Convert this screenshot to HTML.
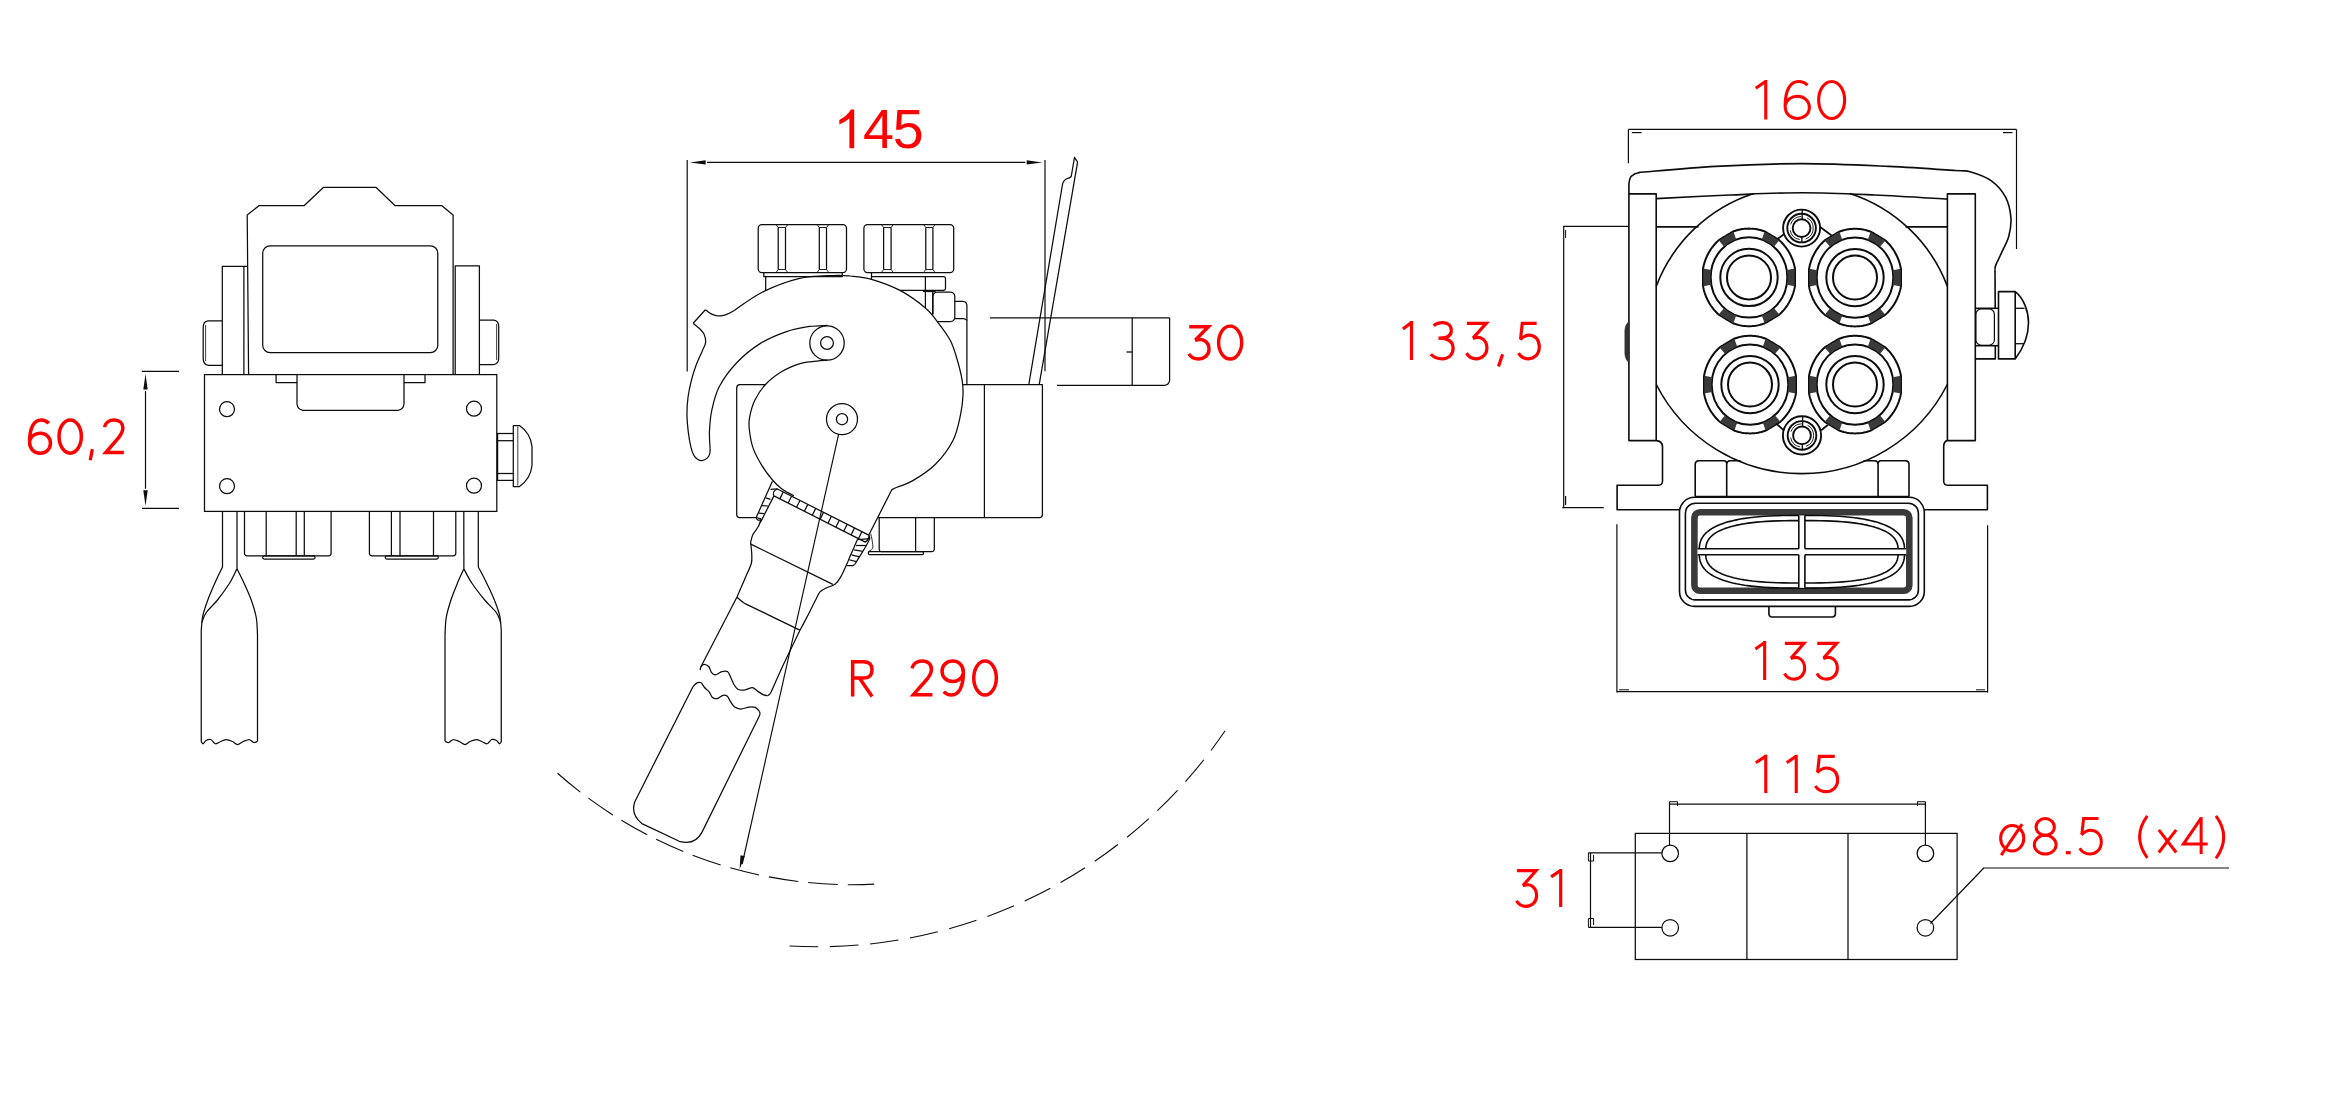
<!DOCTYPE html>
<html><head><meta charset="utf-8"><title>Drawing</title>
<style>html,body{margin:0;padding:0;background:#fff;}body{width:2338px;height:1119px;overflow:hidden;font-family:"Liberation Sans",sans-serif;}</style>
</head><body>
<svg width="2338" height="1119" viewBox="0 0 2338 1119" style="display:block">
<path d="M248.6 374.7L247.2 215.1L259.2 205.5L304.3 205.5L323.6 187.3L375.9 187.3L394.9 205.5L441.6 205.5L453.1 215.1L453.1 374.7" stroke="#0c0c0c" stroke-width="1.25" fill="none" stroke-linejoin="round" />
<rect x="262.7" y="245.8" width="175.1" height="106.9" rx="7.5" stroke="#0c0c0c" stroke-width="1.25" fill="none" />
<path d="M222.3 374.7L222.3 266.4L247.5 266.4" stroke="#0c0c0c" stroke-width="1.25" fill="none" stroke-linejoin="round" />
<path d="M243.9 266.4L243.9 374.7" stroke="#0c0c0c" stroke-width="1.25" fill="none" />
<path d="M455.2 374.7L455.2 265.8L479.4 265.8L479.4 374.7" stroke="#0c0c0c" stroke-width="1.25" fill="none" stroke-linejoin="round" />
<path d="M222.3 320.8L208 320.8Q203.2 321.5 203.2 327L203.2 359Q203.5 364.8 208.5 365.4L222.3 365.4" stroke="#0c0c0c" stroke-width="1.25" fill="none" stroke-linejoin="round" />
<path d="M205.6 325L205.6 361" stroke="#0c0c0c" stroke-width="0.8" fill="none" />
<path d="M479.4 320.2L493.8 320.2Q498.7 321 498.7 326.5L498.7 358.5Q498.5 364 493.5 364.6L479.4 364.6" stroke="#0c0c0c" stroke-width="1.25" fill="none" stroke-linejoin="round" />
<path d="M496.6 324L496.6 360" stroke="#0c0c0c" stroke-width="0.8" fill="none" />
<rect x="204.5" y="374.6" width="292.3" height="136.8" rx="0" stroke="#0c0c0c" stroke-width="1.25" fill="none" />
<circle cx="227" cy="409.2" r="7.5" stroke="#0c0c0c" stroke-width="1.25" fill="none" />
<circle cx="474" cy="408.7" r="7.5" stroke="#0c0c0c" stroke-width="1.25" fill="none" />
<circle cx="227" cy="486.2" r="7.5" stroke="#0c0c0c" stroke-width="1.25" fill="none" />
<circle cx="474" cy="485.7" r="7.5" stroke="#0c0c0c" stroke-width="1.25" fill="none" />
<path d="M276.1 374.7L276.1 382.7L297 382.7" stroke="#0c0c0c" stroke-width="1.25" fill="none" stroke-linejoin="round" />
<path d="M404 382.7L425 382.7L425 374.7" stroke="#0c0c0c" stroke-width="1.25" fill="none" stroke-linejoin="round" />
<path d="M297 374.7L297 404Q297.5 409.5 303 410.3L398 410.3Q403.5 409.5 404 404L404 374.7" stroke="#0c0c0c" stroke-width="1.25" fill="none" stroke-linejoin="round" />
<path d="M496.8 433.5L513.3 433.5" stroke="#0c0c0c" stroke-width="1.25" fill="none" />
<path d="M496.8 480.4L513.3 480.4" stroke="#0c0c0c" stroke-width="1.25" fill="none" />
<path d="M496.8 440.7L513.3 440.7" stroke="#0c0c0c" stroke-width="1.25" fill="none" />
<path d="M496.8 473.5L513.3 473.5" stroke="#0c0c0c" stroke-width="1.25" fill="none" />
<path d="M497.6 433.5L497.6 480.4" stroke="#0c0c0c" stroke-width="1.25" fill="none" />
<path d="M513.3 425.5L519.5 425.5C526 430 531 437.5 532 446.5L532 465.5C531 474.5 526 482 519.5 486.5L513.3 486.5Z" stroke="#0c0c0c" stroke-width="1.25" fill="none" stroke-linejoin="round" />
<path d="M517.8 426.5L517.8 485.5" stroke="#0c0c0c" stroke-width="0.8" fill="none" />
<path d="M244.5 511.4L244.5 553.5Q244.7 555.7 247 555.9L328.6 555.9Q330.9 555.7 331.1 553.5L331.1 511.4" stroke="#0c0c0c" stroke-width="1.25" fill="none" stroke-linejoin="round" />
<path d="M266.2 511.4L266.2 555.9" stroke="#0c0c0c" stroke-width="1.25" fill="none" />
<path d="M296.2 511.4L296.2 555.9" stroke="#0c0c0c" stroke-width="1.25" fill="none" />
<path d="M304.3 511.4L304.3 555.9" stroke="#0c0c0c" stroke-width="1.25" fill="none" />
<rect x="262.7" y="555.9" width="52.3" height="3.2" rx="1.5" stroke="#0c0c0c" stroke-width="1.25" fill="none" />
<path d="M369.4 511.4L369.4 553.5Q369.6 555.7 372 555.9L453.3 555.9Q455.6 555.7 455.8 553.5L455.8 511.4" stroke="#0c0c0c" stroke-width="1.25" fill="none" stroke-linejoin="round" />
<path d="M391.4 511.4L391.4 555.9" stroke="#0c0c0c" stroke-width="1.25" fill="none" />
<path d="M400 511.4L400 555.9" stroke="#0c0c0c" stroke-width="1.25" fill="none" />
<path d="M433.5 511.4L433.5 555.9" stroke="#0c0c0c" stroke-width="1.25" fill="none" />
<rect x="385.3" y="555.9" width="53" height="3.2" rx="1.5" stroke="#0c0c0c" stroke-width="1.25" fill="none" />
<path d="M222.5 511.25L222.5 567" stroke="#0c0c0c" stroke-width="1.25" fill="none" stroke-linejoin="round" />
<path d="M222.5 567C221.46 569.17 218.54 574.92 216.25 580C213.96 585.08 210.96 591.67 208.75 597.5C206.54 603.33 204.25 609.58 203 615C201.75 620.42 201.54 627.5 201.25 630" stroke="#0c0c0c" stroke-width="1.25" fill="none" stroke-linejoin="round" />
<path d="M201.25 630L201.25 742" stroke="#0c0c0c" stroke-width="1.25" fill="none" stroke-linejoin="round" />
<path d="M237 511.25L237 568.75" stroke="#0c0c0c" stroke-width="1.25" fill="none" stroke-linejoin="round" />
<path d="M237 568.75C238.12 571.04 241.38 577.29 243.75 582.5C246.12 587.71 249.17 594.17 251.25 600C253.33 605.83 255.21 611.67 256.25 617.5C257.29 623.33 257.29 632.08 257.5 635" stroke="#0c0c0c" stroke-width="1.25" fill="none" stroke-linejoin="round" />
<path d="M257.5 635L257.5 741.25" stroke="#0c0c0c" stroke-width="1.25" fill="none" stroke-linejoin="round" />
<path d="M237 568.75C235.83 571.04 233.25 577.29 230 582.5C226.75 587.71 221.46 595 217.5 600C213.54 605 208.88 608.75 206.25 612.5C203.62 616.25 202.5 620.83 201.75 622.5" stroke="#0c0c0c" stroke-width="1.25" fill="none" stroke-linejoin="round" />
<path d="M201.25 742C201.58 742.29 202.46 744 203.25 743.75C204.04 743.5 204.75 741.21 206 740.5C207.25 739.79 209.17 738.96 210.75 739.5C212.33 740.04 213.83 743.42 215.5 743.75C217.17 744.08 218.96 742.21 220.75 741.5C222.54 740.79 224.29 739.5 226.25 739.5C228.21 739.5 230.62 740.67 232.5 741.5C234.38 742.33 235.71 744.5 237.5 744.5C239.29 744.5 241.25 742.29 243.25 741.5C245.25 740.71 247.75 739.58 249.5 739.75C251.25 739.92 252.42 742.25 253.75 742.5C255.08 742.75 256.88 741.46 257.5 741.25" stroke="#0c0c0c" stroke-width="1.25" fill="none" stroke-linejoin="round" />
<path d="M478.3 511.25L478.3 567" stroke="#0c0c0c" stroke-width="1.25" fill="none" stroke-linejoin="round" />
<path d="M478.3 567C479.43 569.17 482.59 574.92 485.1 580C487.61 585.08 490.95 591.67 493.35 597.5C495.75 603.33 498.18 609.58 499.5 615C500.82 620.42 500.96 627.5 501.25 630" stroke="#0c0c0c" stroke-width="1.25" fill="none" stroke-linejoin="round" />
<path d="M501.25 630L501.25 742" stroke="#0c0c0c" stroke-width="1.25" fill="none" stroke-linejoin="round" />
<path d="M463.8 511.25L463.87 568.75" stroke="#0c0c0c" stroke-width="1.25" fill="none" stroke-linejoin="round" />
<path d="M463.87 568.75C462.85 571.04 459.86 577.29 457.71 582.5C455.56 587.71 452.86 594.17 450.95 600C449.04 605.83 447.24 611.67 446.25 617.5C445.26 623.33 445.21 632.08 445 635" stroke="#0c0c0c" stroke-width="1.25" fill="none" stroke-linejoin="round" />
<path d="M445 635L445 741.25" stroke="#0c0c0c" stroke-width="1.25" fill="none" stroke-linejoin="round" />
<path d="M463.87 568.75C465.14 571.04 467.99 577.29 471.46 582.5C474.93 587.71 480.57 595 484.7 600C488.83 605 493.58 608.75 496.25 612.5C498.92 616.25 500 620.83 500.75 622.5" stroke="#0c0c0c" stroke-width="1.25" fill="none" stroke-linejoin="round" />
<path d="M501.25 742C500.92 742.29 500.04 744 499.25 743.75C498.46 743.5 497.75 741.21 496.5 740.5C495.25 739.79 493.33 738.96 491.75 739.5C490.17 740.04 488.67 743.42 487 743.75C485.33 744.08 483.54 742.21 481.75 741.5C479.96 740.79 478.21 739.5 476.25 739.5C474.29 739.5 471.88 740.67 470 741.5C468.12 742.33 466.79 744.5 465 744.5C463.21 744.5 461.25 742.29 459.25 741.5C457.25 740.71 454.75 739.58 453 739.75C451.25 739.92 450.08 742.25 448.75 742.5C447.42 742.75 445.62 741.46 445 741.25" stroke="#0c0c0c" stroke-width="1.25" fill="none" stroke-linejoin="round" />
<path d="M142 371.4L179 371.4" stroke="#0c0c0c" stroke-width="1.2" fill="none" />
<path d="M142 508.4L179 508.4" stroke="#0c0c0c" stroke-width="1.2" fill="none" />
<path d="M145.5 391L145.5 488.8" stroke="#0c0c0c" stroke-width="1.2" fill="none" />
<path d="M145.5 373.9L147.7 389.6L143.3 389.6Z" fill="#0c0c0c" stroke="none"/>
<path d="M145.5 505.9L143.3 490.2L147.7 490.2Z" fill="#0c0c0c" stroke="none"/>
<path d="M48.78 423.27 C46.69 420.95 44.18 419.95 41.05 419.95 C33.73 419.95 29.55 428.25 29.55 441.86 C29.55 449.17 34.15 453.15 40 453.15 C45.85 453.15 50.45 449.17 50.45 443.19 C50.45 437.21 45.85 433.23 40 433.23 C34.77 433.23 30.6 436.55 29.97 440.53" fill="none" stroke="#ff0000" stroke-width="3.5" stroke-linejoin="miter" stroke-miterlimit="10"/>
<ellipse cx="70.2" cy="436.55" rx="11.15" ry="16.6" fill="none" stroke="#ff0000" stroke-width="3.5"/>
<path d="M92.35 449.1 L90.25 460.2" fill="none" stroke="#ff0000" stroke-width="3.3" stroke-linejoin="miter" stroke-miterlimit="10"/>
<path d="M104.45 427.12 C105.42 422.56 109.3 419.95 114.15 419.95 C119.58 419.95 122.88 423.21 122.88 428.1 C122.88 432.34 120.94 434.62 118.42 437.88 L105.81 452.55 L123.85 452.55" fill="none" stroke="#ff0000" stroke-width="3.5" stroke-linejoin="miter" stroke-miterlimit="10"/>
<rect x="758.2" y="224.6" width="88.3" height="47.9" rx="3.6" stroke="#0c0c0c" stroke-width="1.25" fill="none" />
<path d="M778.2 227.5L778.2 269.5" stroke="#0c0c0c" stroke-width="1.25" fill="none" />
<path d="M785.5 227.5L785.5 269.5" stroke="#0c0c0c" stroke-width="1.25" fill="none" />
<path d="M778.2 269.5L776 272.5" stroke="#0c0c0c" stroke-width="0.9" fill="none" />
<path d="M785.5 269.5L787.7 272.5" stroke="#0c0c0c" stroke-width="0.9" fill="none" />
<path d="M778.2 227.5L776 224.6" stroke="#0c0c0c" stroke-width="0.9" fill="none" />
<path d="M785.5 227.5L787.7 224.6" stroke="#0c0c0c" stroke-width="0.9" fill="none" />
<path d="M778.2 269.5L785.5 269.5" stroke="#0c0c0c" stroke-width="0.9" fill="none" />
<path d="M778.2 227.5L785.5 227.5" stroke="#0c0c0c" stroke-width="0.9" fill="none" />
<path d="M819.3 227.5L819.3 269.5" stroke="#0c0c0c" stroke-width="1.25" fill="none" />
<path d="M826.5 227.5L826.5 269.5" stroke="#0c0c0c" stroke-width="1.25" fill="none" />
<path d="M819.3 269.5L817.1 272.5" stroke="#0c0c0c" stroke-width="0.9" fill="none" />
<path d="M826.5 269.5L828.7 272.5" stroke="#0c0c0c" stroke-width="0.9" fill="none" />
<path d="M819.3 227.5L817.1 224.6" stroke="#0c0c0c" stroke-width="0.9" fill="none" />
<path d="M826.5 227.5L828.7 224.6" stroke="#0c0c0c" stroke-width="0.9" fill="none" />
<path d="M819.3 269.5L826.5 269.5" stroke="#0c0c0c" stroke-width="0.9" fill="none" />
<path d="M819.3 227.5L826.5 227.5" stroke="#0c0c0c" stroke-width="0.9" fill="none" />
<rect x="863.9" y="224.6" width="89.8" height="47.9" rx="3.6" stroke="#0c0c0c" stroke-width="1.25" fill="none" />
<path d="M883.6 227.5L883.6 269.5" stroke="#0c0c0c" stroke-width="1.25" fill="none" />
<path d="M891.1 227.5L891.1 269.5" stroke="#0c0c0c" stroke-width="1.25" fill="none" />
<path d="M883.6 269.5L881.4 272.5" stroke="#0c0c0c" stroke-width="0.9" fill="none" />
<path d="M891.1 269.5L893.3 272.5" stroke="#0c0c0c" stroke-width="0.9" fill="none" />
<path d="M883.6 227.5L881.4 224.6" stroke="#0c0c0c" stroke-width="0.9" fill="none" />
<path d="M891.1 227.5L893.3 224.6" stroke="#0c0c0c" stroke-width="0.9" fill="none" />
<path d="M883.6 269.5L891.1 269.5" stroke="#0c0c0c" stroke-width="0.9" fill="none" />
<path d="M883.6 227.5L891.1 227.5" stroke="#0c0c0c" stroke-width="0.9" fill="none" />
<path d="M925.8 227.5L925.8 269.5" stroke="#0c0c0c" stroke-width="1.25" fill="none" />
<path d="M932.9 227.5L932.9 269.5" stroke="#0c0c0c" stroke-width="1.25" fill="none" />
<path d="M925.8 269.5L923.6 272.5" stroke="#0c0c0c" stroke-width="0.9" fill="none" />
<path d="M932.9 269.5L935.1 272.5" stroke="#0c0c0c" stroke-width="0.9" fill="none" />
<path d="M925.8 227.5L923.6 224.6" stroke="#0c0c0c" stroke-width="0.9" fill="none" />
<path d="M932.9 227.5L935.1 224.6" stroke="#0c0c0c" stroke-width="0.9" fill="none" />
<path d="M925.8 269.5L932.9 269.5" stroke="#0c0c0c" stroke-width="0.9" fill="none" />
<path d="M925.8 227.5L932.9 227.5" stroke="#0c0c0c" stroke-width="0.9" fill="none" />
<path d="M763.8 272.5L763.8 276.7L842.2 276.7L842.2 272.5" stroke="#0c0c0c" stroke-width="1.25" fill="none" stroke-linejoin="round" />
<path d="M765.7 276.7L765.7 290.5" stroke="#0c0c0c" stroke-width="1.25" fill="none" />
<path d="M871.5 272.5L871.5 279" stroke="#0c0c0c" stroke-width="1.25" fill="none" />
<path d="M871.5 276.6L943.8 276.6Q945.5 276.8 945.5 278.5L945.5 288.4Q945.4 290.2 943.6 290.4L900 290.4" stroke="#0c0c0c" stroke-width="1.25" fill="none" stroke-linejoin="round" />
<path d="M925.4 276.6L925.4 290.4" stroke="#0c0c0c" stroke-width="1.25" fill="none" />
<path d="M922.9 291.5L935.8 291.5" stroke="#0c0c0c" stroke-width="1.25" fill="none" />
<path d="M925.4 291.5L925.4 307.9" stroke="#0c0c0c" stroke-width="1.25" fill="none" />
<path d="M932.7 291.5L932.7 314.5" stroke="#0c0c0c" stroke-width="1.25" fill="none" />
<path d="M932.9 314.6L932.9 296.5Q933.2 292.5 937.2 292.2L950.5 292.2Q954.5 292.5 954.8 296.5L954.8 317.2Q954.5 321.2 950.5 321.5L937.2 321.5" stroke="#0c0c0c" stroke-width="1.25" fill="none" stroke-linejoin="round" />
<path d="M954.8 301.3L963 301.3Q966.7 301.6 966.9 305.3L966.9 385.3" stroke="#0c0c0c" stroke-width="1.25" fill="none" stroke-linejoin="round" />
<path d="M954.8 318.6L963.5 318.6Q966 318.8 966.9 320.5" stroke="#0c0c0c" stroke-width="1.25" fill="none" stroke-linejoin="round" />
<path d="M765.7 384.6L739.7 384.6Q736.9 384.8 736.7 387.6L736.7 514.7Q736.9 517.5 739.7 517.7L756.2 517.7" stroke="#0c0c0c" stroke-width="1.25" fill="none" stroke-linejoin="round" />
<path d="M963 384.6L1042.4 384.6L1042.4 514.7Q1042.2 517.5 1039.4 517.7L878.3 517.7" stroke="#0c0c0c" stroke-width="1.25" fill="none" stroke-linejoin="round" />
<path d="M984.4 384.6L984.4 517.7" stroke="#0c0c0c" stroke-width="1.25" fill="none" />
<path d="M879.2 517.7L879.2 549.5Q879.4 551.5 881.5 551.7L932 551.7Q934.1 551.5 934.3 549.5L934.3 517.7" stroke="#0c0c0c" stroke-width="1.25" fill="none" stroke-linejoin="round" />
<path d="M915.6 517.7L915.6 551.7" stroke="#0c0c0c" stroke-width="1.25" fill="none" />
<rect x="868.4" y="551.7" width="55.1" height="3" rx="1.2" stroke="#0c0c0c" stroke-width="1.25" fill="none" />
<path d="M734.3 310.4C738.95 307.37 751.47 297.5 762.2 292.2C772.93 286.9 786.9 281.38 798.7 278.6C810.5 275.82 824.45 275.93 833 275.5C841.55 275.07 843.58 275.37 850 276C856.42 276.63 863.17 276.9 871.5 279.3C879.83 281.7 891.02 285.63 900 290.4C908.98 295.17 919.25 302.78 925.4 307.9C931.55 313.02 932.78 315.75 936.9 321.1C941.02 326.45 946.75 333.68 950.1 340C953.45 346.32 955 352.32 957 359C959 365.68 961.1 374.08 962.1 380.1C963.1 386.12 963.25 389.38 963 395.1C962.75 400.82 962.25 406.88 960.6 414.4C958.95 421.92 957.33 431.85 953.1 440.2C948.87 448.55 941.98 457.72 935.2 464.5C928.42 471.28 918.77 477.12 912.4 480.9C906.03 484.68 900.43 485.72 897 487.2C893.57 488.68 892.67 489.37 891.8 489.8L868.9 534.8" stroke="#0c0c0c" stroke-width="1.25" fill="none" stroke-linejoin="round" />
<path d="M693.16 323.27L705.39 309.76" stroke="#0c0c0c" stroke-width="1.25" fill="none" stroke-linejoin="round" />
<path d="M705.39 309.76C706.28 310.4 708.96 312.65 710.75 313.62C712.54 314.58 714.15 315.23 716.11 315.55C718.08 315.87 720.4 315.91 722.55 315.55C724.69 315.19 727.02 314.26 728.98 313.4C730.95 312.55 733.45 310.9 734.34 310.4" stroke="#0c0c0c" stroke-width="1.25" fill="none" stroke-linejoin="round" />
<path d="M693.16 323.27C694.31 324.24 698.17 327.17 700.03 329.06C701.89 330.96 703.39 332.39 704.32 334.64C705.25 336.89 705.96 339.82 705.6 342.57C705.25 345.33 703.82 347.22 702.17 351.15C700.53 355.08 697.52 361.34 695.74 366.17C693.95 370.99 692.73 374.92 691.45 380.11C690.16 385.29 688.77 391.55 688.02 397.27C687.27 402.98 686.91 408.7 686.94 414.42C686.98 420.14 687.55 426.04 688.23 431.58C688.91 437.12 690.05 443.66 691.02 447.67C691.98 451.67 692.88 453.64 694.02 455.6C695.17 457.57 696.52 458.64 697.88 459.46C699.24 460.29 700.67 460.71 702.17 460.54C703.67 460.36 705.64 459.46 706.89 458.39C708.14 457.32 709.14 455.71 709.68 454.1C710.21 452.49 710.04 449.63 710.11 448.74" stroke="#0c0c0c" stroke-width="1.25" fill="none" stroke-linejoin="round" />
<path d="M710.11 448.74C710 445.88 709.18 438.02 709.46 431.58C709.75 425.15 710.18 417.64 711.82 410.13C713.47 402.63 715.22 394.41 719.33 386.54C723.44 378.68 729.7 370.1 736.49 362.95C743.28 355.8 751.86 348.83 760.08 343.65C768.3 338.46 777.6 334.71 785.82 331.85C794.04 328.99 802.44 327.56 809.41 326.49C816.38 325.42 824.6 325.59 827.64 325.42" stroke="#0c0c0c" stroke-width="1.25" fill="none" stroke-linejoin="round" />
<circle cx="827" cy="343" r="17.2" stroke="#0c0c0c" stroke-width="1.25" fill="none" />
<circle cx="827" cy="343" r="6.4" stroke="#0c0c0c" stroke-width="1.25" fill="none" />
<path d="M827.6 360.2C825 360.43 816.6 361.03 812 361.6C807.4 362.17 805.02 361.95 800 363.6C794.98 365.25 787.62 368.07 781.9 371.5C776.18 374.93 770.23 379.38 765.7 384.2C761.17 389.02 757.38 394.88 754.7 400.4C752.02 405.92 750.5 412.5 749.6 417.3C748.7 422.1 748.73 424.1 749.3 429.2C749.87 434.3 750.97 441.95 753 447.9C755.03 453.85 758.25 459.55 761.5 464.9C764.75 470.25 769.2 476.07 772.5 480C775.8 483.93 778.2 486.1 781.3 488.5C784.4 490.9 788.98 493.18 791.1 494.4C793.22 495.62 793.52 495.57 794 495.8" stroke="#0c0c0c" stroke-width="1.25" fill="none" stroke-linejoin="round" />
<circle cx="842" cy="419.2" r="15.5" stroke="#0c0c0c" stroke-width="1.25" fill="none" />
<circle cx="842" cy="419.2" r="5.6" stroke="#0c0c0c" stroke-width="1.25" fill="none" />
<path d="M838.6 434.4L742.2 864" stroke="#0c0c0c" stroke-width="1.15" fill="none" />
<path d="M739.6 869.3L740.53 855.16L744.82 856.13Z" fill="#0c0c0c" stroke="none"/>
<path d="M777.35 488.99L868.75 535.18Q869.95 538.68 865.35 542.08L773.95 495.89Q771.75 491.39 777.35 488.99Z" stroke="#0c0c0c" stroke-width="1.25" fill="none" stroke-linejoin="round" />
<path d="M783.24 491.97L779.84 498.87" stroke="#0c0c0c" stroke-width="1.25" fill="none" />
<path d="M791.6 496.19L788.2 503.09" stroke="#0c0c0c" stroke-width="1.25" fill="none" />
<path d="M799.95 500.42L796.55 507.32" stroke="#0c0c0c" stroke-width="1.25" fill="none" />
<path d="M807.81 504.39L804.41 511.29" stroke="#0c0c0c" stroke-width="1.25" fill="none" />
<path d="M815.68 508.36L812.28 515.26" stroke="#0c0c0c" stroke-width="1.25" fill="none" />
<path d="M823.54 512.34L820.14 519.24" stroke="#0c0c0c" stroke-width="1.25" fill="none" />
<path d="M831.4 516.31L828 523.21" stroke="#0c0c0c" stroke-width="1.25" fill="none" />
<path d="M839.26 520.28L835.86 527.18" stroke="#0c0c0c" stroke-width="1.25" fill="none" />
<path d="M847.13 524.26L843.73 531.16" stroke="#0c0c0c" stroke-width="1.25" fill="none" />
<path d="M854.5 527.98L851.1 534.88" stroke="#0c0c0c" stroke-width="1.25" fill="none" />
<path d="M861.87 531.71L858.47 538.61" stroke="#0c0c0c" stroke-width="1.25" fill="none" />
<path d="M772.43 481.13L756.22 517.49" stroke="#0c0c0c" stroke-width="1.25" fill="none" />
<path d="M756.22 517.49Q756.71 520.74 760.15 520.15" stroke="#0c0c0c" stroke-width="1.25" fill="none" stroke-linejoin="round" />
<path d="M770.47 489.29L777.35 488.99" stroke="#0c0c0c" stroke-width="1.25" fill="none" />
<path d="M765.75 497.84L770.47 499.31" stroke="#0c0c0c" stroke-width="1.25" fill="none" />
<path d="M762.11 505.7L768.01 506" stroke="#0c0c0c" stroke-width="1.25" fill="none" />
<path d="M758.67 513.07L764.37 513.56" stroke="#0c0c0c" stroke-width="1.25" fill="none" />
<path d="M756.22 517.49L761.13 518.97" stroke="#0c0c0c" stroke-width="1.25" fill="none" />
<path d="M773.91 495.87L760.15 522.9" stroke="#0c0c0c" stroke-width="1.25" fill="none" />
<path d="M868.75 535.18C868.88 535.64 870.06 537.25 869.73 538.62C869.4 540 867.21 543.8 866.29 545.5C865.37 547.21 863.77 549.89 862.85 551.4C861.93 552.91 860.26 555.43 859.41 556.81C858.56 558.18 857.12 560.67 856.46 561.72C855.81 562.77 854.76 564.28 854.5 564.67" stroke="#0c0c0c" stroke-width="1.25" fill="none" stroke-linejoin="round" />
<path d="M854.5 564.67Q853.02 565.95 847.13 565.65" stroke="#0c0c0c" stroke-width="1.25" fill="none" stroke-linejoin="round" />
<path d="M869.73 538.62L857.44 539.61" stroke="#0c0c0c" stroke-width="1.25" fill="none" />
<path d="M866.29 545.5L855.97 545.5" stroke="#0c0c0c" stroke-width="1.25" fill="none" />
<path d="M862.85 551.4L854 549.93" stroke="#0c0c0c" stroke-width="1.25" fill="none" />
<path d="M859.41 556.81L851.55 554.84" stroke="#0c0c0c" stroke-width="1.25" fill="none" />
<path d="M856.46 561.72L849.09 559.75" stroke="#0c0c0c" stroke-width="1.25" fill="none" />
<path d="M870.71 533.71C870.91 534.63 871.92 538.62 872.19 540.59C872.45 542.56 873.27 546.95 872.68 548.45C872.09 549.96 868.42 551.43 867.76 551.89" stroke="#0c0c0c" stroke-width="0.9" fill="none" stroke-linejoin="round" />
<path d="M761.13 518.97C760.74 520.02 759.3 524.73 758.18 526.83C757.07 528.93 753.79 532.6 752.78 534.69C751.77 536.79 750.88 541.36 750.61 542.56C750.35 543.75 750.64 542.13 750.8 543.68C750.95 545.22 751.7 551.45 751.76 554.14C751.83 556.82 752.27 560.36 751.28 563.79C750.29 567.22 746.25 575.48 744.36 579.88C742.47 584.28 738.09 594.52 737.12 596.77" stroke="#0c0c0c" stroke-width="1.25" fill="none" stroke-linejoin="round" />
<path d="M737.12 596.77L700.92 666.77" stroke="#0c0c0c" stroke-width="1.25" fill="none" />
<path d="M857.44 539.61C856.46 541.83 851.42 553.2 850.07 556.31C848.73 559.43 848.56 560.27 847.34 562.98C846.11 565.7 842.51 573.87 840.9 576.66C839.29 579.45 837.31 582.36 835.27 583.9C833.23 585.45 827.65 587.17 825.62 588.25C823.58 589.32 821.38 590.27 819.98 591.95C818.59 593.62 816.66 597.9 815.16 600.8C813.66 603.69 810.76 609.7 808.72 613.67C806.68 617.64 801.05 628.31 799.87 630.56" stroke="#0c0c0c" stroke-width="1.25" fill="none" stroke-linejoin="round" />
<path d="M799.87 630.56C798.5 633.38 788.53 653.81 786.19 658.72C783.86 663.63 778.12 676.18 776.54 679.64C774.96 683.1 771.31 691.72 770.43 693.31C769.54 694.91 767.96 695.34 767.69 695.57" stroke="#0c0c0c" stroke-width="1.25" fill="none" stroke-linejoin="round" />
<path d="M750.8 544.16L832.86 584.38" stroke="#0c0c0c" stroke-width="1.25" fill="none" />
<path d="M737.12 597.26C737.68 597.74 741.54 601.25 742.75 602.08C743.96 602.92 743.48 602.82 749.19 605.62C754.9 608.42 794.8 627.63 799.87 630.08" stroke="#0c0c0c" stroke-width="1.25" fill="none" stroke-linejoin="round" />
<path d="M700.11 669.98C700.23 669.5 700.31 667.61 700.92 666.77C701.52 665.92 702.93 664.35 704.14 664.35C705.34 664.35 707.88 665.56 708.96 666.77C710.05 667.97 710.41 671.19 711.38 672.4C712.34 673.6 713.83 674.93 715.4 674.81C716.97 674.69 720.02 672.08 721.83 671.59C723.64 671.11 726.14 670.75 727.47 671.59C728.79 672.44 729.72 675.29 730.68 677.22C731.65 679.16 732.82 682.65 733.9 684.47C734.99 686.28 736.36 688.45 737.92 689.29C739.49 690.14 742.19 690.34 744.36 690.1C746.53 689.86 750.47 687.56 752.41 687.68C754.34 687.8 755.54 689.81 757.23 690.9C758.92 691.99 762.1 694.22 763.67 694.92C765.24 695.62 767.09 695.47 767.69 695.57" stroke="#0c0c0c" stroke-width="1.25" fill="none" stroke-linejoin="round" />
<path d="M701.42 682.73C701.89 683.44 703.4 686.05 704.58 687.48C705.77 688.9 708.14 690.7 709.33 692.22C710.52 693.74 711.31 696.65 712.5 697.6C713.68 698.55 715.68 698.89 717.24 698.55C718.81 698.22 721.42 695.72 722.94 695.39C724.46 695.06 726.23 695.39 727.37 696.34C728.51 697.29 729.44 700.1 730.54 701.72C731.63 703.33 733.08 706.01 734.65 707.1C736.22 708.19 738.84 709 740.98 709C743.12 709 746.76 707.34 748.89 707.1C751.03 706.86 753.66 706.8 755.22 707.42C756.79 708.03 758.72 710.64 759.34 711.21" stroke="#0c0c0c" stroke-width="1.25" fill="none" stroke-linejoin="round" />
<path d="M701.42 682.73Q696.67 681.15 692.56 687.48L634.95 801.42Q630.2 814.08 641.91 823.57L679.26 841.3Q695.09 845.73 702.05 832.12L759.34 715.96Q760.6 713.43 759.34 711.21" stroke="#0c0c0c" stroke-width="1.25" fill="none" stroke-linejoin="round" />
<path d="M989.9 317.8L1169.6 317.8" stroke="#0c0c0c" stroke-width="1.25" fill="none" />
<path d="M1169.6 317.8L1169.6 380Q1169.3 384.8 1164.5 385.3L1057 385.3" stroke="#0c0c0c" stroke-width="1.25" fill="none" stroke-linejoin="round" />
<path d="M1132.2 317.8L1132.2 385.3" stroke="#0c0c0c" stroke-width="1.25" fill="none" />
<path d="M1126.5 352L1132.2 352" stroke="#0c0c0c" stroke-width="1.25" fill="none" />
<path d="M1077.6 162.1L1039.2 384.6" stroke="#0c0c0c" stroke-width="1.25" fill="none" />
<path d="M1077.6 162.1L1074.5 157.4L1071.3 176Q1070.8 177.8 1067.1 178.5Q1063 180.5 1062.4 185L1028.8 384.6" stroke="#0c0c0c" stroke-width="1.25" fill="none" stroke-linejoin="round" />
<path d="M687.2 160L687.2 371.5" stroke="#0c0c0c" stroke-width="1.2" fill="none" />
<path d="M1045 160L1045 371.3" stroke="#0c0c0c" stroke-width="1.2" fill="none" />
<path d="M707 162.4L1025.3 162.4" stroke="#0c0c0c" stroke-width="1.2" fill="none" />
<path d="M689.9 162.4L705.6 160.2L705.6 164.6Z" fill="#0c0c0c" stroke="none"/>
<path d="M1042.4 162.4L1026.7 164.6L1026.7 160.2Z" fill="#0c0c0c" stroke="none"/>
<path d="M854.2 109.6L854.2 148.2L849.4 148.2L849.4 118.6Q845 122.2 839.3 124.5L839.3 120Q846.8 116.4 850.9 109.6Z" fill="#ff0000"/>
<text x="863" y="148.2" font-family="Liberation Sans, sans-serif" font-size="55.7" fill="#ff0000" letter-spacing="-1.2">45</text>
<path d="M852.65 696.4 L852.65 661.75 L863.32 661.75 C869.14 661.75 872.05 664.52 872.05 669.89 C872.05 675.26 869.14 678.04 863.32 678.04 L852.65 678.04" fill="none" stroke="#ff0000" stroke-width="3.5" stroke-linejoin="miter" stroke-miterlimit="10"/>
<path d="M859.44 678.04 L872.05 696.4" fill="none" stroke="#ff0000" stroke-width="3.5" stroke-linejoin="miter" stroke-miterlimit="10"/>
<path d="M911.95 668.44 C912.98 663.74 917.08 661.05 922.2 661.05 C927.94 661.05 931.43 664.41 931.43 669.45 C931.43 673.82 929.38 676.17 926.71 679.53 L913.38 694.65 L932.45 694.65" fill="none" stroke="#ff0000" stroke-width="3.5" stroke-linejoin="miter" stroke-miterlimit="10"/>
<path d="M943.75 691.65 C945.88 694.03 948.44 695.05 951.63 695.05 C959.09 695.05 963.35 686.55 963.35 672.61 C963.35 665.13 958.66 661.05 952.7 661.05 C946.74 661.05 942.05 665.13 942.05 671.25 C942.05 677.37 946.74 681.45 952.7 681.45 C958.02 681.45 962.28 678.05 962.92 673.97" fill="none" stroke="#ff0000" stroke-width="3.5" stroke-linejoin="miter" stroke-miterlimit="10"/>
<ellipse cx="985.05" cy="678.05" rx="11.3" ry="17" fill="none" stroke="#ff0000" stroke-width="3.5"/>
<path d="M1189.2 326.8 L1208.39 326.8 L1195.47 340" fill="none" stroke="#ff0000" stroke-width="3.4" stroke-linejoin="miter" stroke-miterlimit="10"/>
<path d="M1195.06 340.49 C1202.94 337.43 1209 341.93 1209 349.34 C1209 355.14 1203.95 359 1198.5 359 C1194.46 359 1190.82 357.07 1188.8 353.85" fill="none" stroke="#ff0000" stroke-width="3.4" stroke-linejoin="miter" stroke-miterlimit="10"/>
<ellipse cx="1230.15" cy="342.55" rx="11.55" ry="16.45" fill="none" stroke="#ff0000" stroke-width="3.4"/>
<path d="M557.5 773.24A444 444 0 0 0 874.16 884.13" fill="none" stroke="#0c0c0c" stroke-width="1.1" stroke-dasharray="29.7 10"/>
<path d="M789.56 946.03A493.3 493.3 0 0 0 1225.1 730.78" fill="none" stroke="#0c0c0c" stroke-width="1.1" stroke-dasharray="28.6 11.7"/>
<path d="M1628.9 193.9L1628.9 184Q1629.2 173.8 1639.5 172.5" stroke="#0c0c0c" stroke-width="1.6" fill="none" stroke-linejoin="round" />
<path d="M1638.5 172.6C1651.33 171.57 1688.23 167.9 1715.5 166.4C1742.77 164.9 1773.23 163.6 1802.1 163.6C1830.97 163.6 1863.22 165.25 1888.7 166.4C1914.18 167.55 1941.32 169.58 1955 170.5C1968.68 171.42 1964.73 170.18 1970.8 171.9C1976.87 173.62 1985.58 176.57 1991.4 180.8C1997.22 185.03 2002.45 191.13 2005.7 197.3C2008.95 203.47 2010.38 211.3 2010.9 217.8C2011.42 224.3 2010.35 230.48 2008.8 236.3C2007.25 242.12 2003.77 247.9 2001.6 252.7C1999.43 257.5 1996.9 262.3 1995.8 265.1C1994.7 267.9 1995.13 268.77 1995 269.5" stroke="#0c0c0c" stroke-width="1.6" fill="none" stroke-linejoin="round" />
<path d="M1995 269.5L1995.2 308.3" stroke="#0c0c0c" stroke-width="1.6" fill="none" />
<path d="M1656.2 198.6C1668.5 198 1705.68 195.98 1730 195C1754.32 194.02 1777.93 192.7 1802.1 192.7C1826.27 192.7 1850.78 193.93 1875 195C1899.22 196.07 1935.33 198.42 1947.4 199.1" stroke="#0c0c0c" stroke-width="1.6" fill="none" stroke-linejoin="round" />
<path d="M1656.2 440.6L1628.9 440.6L1628.9 193.9L1656.2 193.9L1656.2 440.6Q1662.3 441 1662.5 446.5L1662.5 481.5Q1662.2 485 1658.5 485.2L1617.1 485.2L1617.1 509.8L1680.3 509.8" stroke="#0c0c0c" stroke-width="1.6" fill="none" stroke-linejoin="round" />
<path d="M1947.4 440.6L1975.3 440.6L1975.3 193.9L1947.4 193.9L1947.4 440.6Q1943.9 441 1943.7 446.5L1943.7 481.5Q1944 485 1947.7 485.2L1987.4 485.2L1987.4 509.8L1924.3 509.8" stroke="#0c0c0c" stroke-width="1.6" fill="none" stroke-linejoin="round" />
<path d="M1656.2 226.9L1698.5 226.9" stroke="#0c0c0c" stroke-width="1.6" fill="none" />
<path d="M1905.5 226.9L1947.4 226.9" stroke="#0c0c0c" stroke-width="1.6" fill="none" />
<path d="M1656.3 286.1A155.7 155.7 0 0 1 1753.8 193.4" stroke="#0c0c0c" stroke-width="1.6" fill="none" stroke-linejoin="round" />
<path d="M1849.8 193.4A155.7 155.7 0 0 1 1947.3 286.1" stroke="#0c0c0c" stroke-width="1.6" fill="none" stroke-linejoin="round" />
<path d="M1656.3 384.5A163.3 163.3 0 0 0 1947.3 384.5" stroke="#0c0c0c" stroke-width="1.6" fill="none" stroke-linejoin="round" />
<path d="M1629 320.9L1626.3 324.8Q1624.9 327.5 1624.9 331L1624.9 353Q1624.9 356.5 1626.3 359.3L1629 363.3Z" fill="#333" stroke="#222" stroke-width="0.6"/>
<path d="M1795 277.4L1795 279.08L1795 280.76L1795 282.45L1795 284.16L1794.99 285.87L1794.68 287.55L1794.31 289.21L1793.89 290.85L1793.41 292.48L1792.88 294.09L1792.3 295.68L1791.66 297.25L1790.97 298.79L1790.23 300.31L1789.44 301.8L1788.6 303.26L1787.72 304.69L1786.78 306.08L1785.8 307.45L1784.77 308.77L1783.7 310.05L1782.59 311.3L1781.44 312.5L1780.25 313.67L1779.02 314.78L1777.6 315.65L1776.19 316.5L1774.79 317.35L1773.39 318.19L1772 319.03L1770.61 319.87L1769.21 320.71L1767.81 321.56L1766.4 322.41L1764.97 323.26L1763.43 323.81L1761.87 324.31L1760.3 324.75L1758.71 325.14L1757.11 325.46L1755.5 325.73L1753.88 325.93L1752.26 326.08L1750.63 326.17L1749 326.2L1747.37 326.17L1745.74 326.08L1744.12 325.93L1742.5 325.73L1740.89 325.46L1739.29 325.14L1737.7 324.75L1736.13 324.31L1734.57 323.81L1733.03 323.26L1731.6 322.41L1730.19 321.56L1728.79 320.71L1727.39 319.87L1726 319.03L1724.61 318.19L1723.21 317.35L1721.81 316.5L1720.4 315.65L1718.98 314.78L1717.75 313.67L1716.56 312.5L1715.41 311.3L1714.3 310.05L1713.23 308.77L1712.2 307.45L1711.22 306.08L1710.28 304.69L1709.4 303.26L1708.56 301.8L1707.77 300.31L1707.03 298.79L1706.34 297.25L1705.7 295.68L1705.12 294.09L1704.59 292.48L1704.11 290.85L1703.69 289.21L1703.32 287.55L1703.01 285.87L1703 284.16L1703 282.45L1703 280.76L1703 279.08L1703 277.4L1703 275.72L1703 274.04L1703 272.35L1703 270.64L1703.01 268.93L1703.32 267.25L1703.69 265.59L1704.11 263.95L1704.59 262.32L1705.12 260.71L1705.7 259.12L1706.34 257.55L1707.03 256.01L1707.77 254.49L1708.56 253L1709.4 251.54L1710.28 250.11L1711.22 248.72L1712.2 247.35L1713.23 246.03L1714.3 244.75L1715.41 243.5L1716.56 242.3L1717.75 241.13L1718.98 240.02L1720.4 239.15L1721.81 238.3L1723.21 237.45L1724.61 236.61L1726 235.77L1727.39 234.93L1728.79 234.09L1730.19 233.24L1731.6 232.39L1733.03 231.54L1734.57 230.99L1736.13 230.49L1737.7 230.05L1739.29 229.66L1740.89 229.34L1742.5 229.07L1744.12 228.87L1745.74 228.72L1747.37 228.63L1749 228.6L1750.63 228.63L1752.26 228.72L1753.88 228.87L1755.5 229.07L1757.11 229.34L1758.71 229.66L1760.3 230.05L1761.87 230.49L1763.43 230.99L1764.97 231.54L1766.4 232.39L1767.81 233.24L1769.21 234.09L1770.61 234.93L1772 235.77L1773.39 236.61L1774.79 237.45L1776.19 238.3L1777.6 239.15L1779.02 240.02L1780.25 241.13L1781.44 242.3L1782.59 243.5L1783.7 244.75L1784.77 246.03L1785.8 247.35L1786.78 248.72L1787.72 250.11L1788.6 251.54L1789.44 253L1790.23 254.49L1790.97 256.01L1791.66 257.55L1792.3 259.12L1792.88 260.71L1793.41 262.32L1793.89 263.95L1794.31 265.59L1794.68 267.25L1794.99 268.93L1795 270.64L1795 272.35L1795 274.04L1795 275.72Z" stroke="#0c0c0c" stroke-width="2.0" fill="none" stroke-linejoin="round" />
<ellipse cx="1749" cy="277.4" rx="38.3" ry="40.2" stroke="#0c0c0c" stroke-width="2.0" fill="none" />
<circle cx="1749" cy="277.4" r="28.7" stroke="#0c0c0c" stroke-width="2.0" fill="none" />
<circle cx="1749" cy="277.4" r="22" stroke="#0c0c0c" stroke-width="2.0" fill="none" />
<path d="M1794.62 268.56L1794.7 273.22L1794.7 277.4L1794.7 281.58L1794.62 286.24L1786.95 284.78L1787.45 280.93L1787.6 277.4L1787.45 273.87L1786.95 270.02Z" fill="#3a3a3a" stroke="none"/>
<path d="M1779.13 314.27L1775.31 316.67L1771.85 318.76L1768.39 320.85L1764.49 323.11L1761.88 315.58L1765.31 314.11L1768.3 312.47L1771.14 310.58L1774.07 308.2Z" fill="#3a3a3a" stroke="none"/>
<path d="M1733.51 323.11L1729.61 320.85L1726.15 318.76L1722.69 316.67L1718.87 314.27L1723.93 308.2L1726.86 310.58L1729.7 312.47L1732.69 314.11L1736.12 315.58Z" fill="#3a3a3a" stroke="none"/>
<path d="M1703.38 286.24L1703.3 281.58L1703.3 277.4L1703.3 273.22L1703.38 268.56L1711.05 270.02L1710.55 273.87L1710.4 277.4L1710.55 280.93L1711.05 284.78Z" fill="#3a3a3a" stroke="none"/>
<path d="M1718.87 240.53L1722.69 238.13L1726.15 236.04L1729.61 233.95L1733.51 231.69L1736.12 239.22L1732.69 240.69L1729.7 242.33L1726.86 244.22L1723.93 246.6Z" fill="#3a3a3a" stroke="none"/>
<path d="M1764.49 231.69L1768.39 233.95L1771.85 236.04L1775.31 238.13L1779.13 240.53L1774.07 246.6L1771.14 244.22L1768.3 242.33L1765.31 240.69L1761.88 239.22Z" fill="#3a3a3a" stroke="none"/>
<path d="M1901 277.6L1901 279.28L1901 280.96L1901 282.65L1901 284.36L1900.99 286.07L1900.68 287.75L1900.31 289.41L1899.89 291.05L1899.41 292.68L1898.88 294.29L1898.3 295.88L1897.66 297.45L1896.97 298.99L1896.23 300.51L1895.44 302L1894.6 303.46L1893.72 304.89L1892.78 306.28L1891.8 307.65L1890.77 308.97L1889.7 310.25L1888.59 311.5L1887.44 312.7L1886.25 313.87L1885.02 314.98L1883.6 315.85L1882.19 316.7L1880.79 317.55L1879.39 318.39L1878 319.23L1876.61 320.07L1875.21 320.91L1873.81 321.76L1872.4 322.61L1870.97 323.46L1869.43 324.01L1867.87 324.51L1866.3 324.95L1864.71 325.34L1863.11 325.66L1861.5 325.93L1859.88 326.13L1858.26 326.28L1856.63 326.37L1855 326.4L1853.37 326.37L1851.74 326.28L1850.12 326.13L1848.5 325.93L1846.89 325.66L1845.29 325.34L1843.7 324.95L1842.13 324.51L1840.57 324.01L1839.03 323.46L1837.6 322.61L1836.19 321.76L1834.79 320.91L1833.39 320.07L1832 319.23L1830.61 318.39L1829.21 317.55L1827.81 316.7L1826.4 315.85L1824.98 314.98L1823.75 313.87L1822.56 312.7L1821.41 311.5L1820.3 310.25L1819.23 308.97L1818.2 307.65L1817.22 306.28L1816.28 304.89L1815.4 303.46L1814.56 302L1813.77 300.51L1813.03 298.99L1812.34 297.45L1811.7 295.88L1811.12 294.29L1810.59 292.68L1810.11 291.05L1809.69 289.41L1809.32 287.75L1809.01 286.07L1809 284.36L1809 282.65L1809 280.96L1809 279.28L1809 277.6L1809 275.92L1809 274.24L1809 272.55L1809 270.84L1809.01 269.13L1809.32 267.45L1809.69 265.79L1810.11 264.15L1810.59 262.52L1811.12 260.91L1811.7 259.32L1812.34 257.75L1813.03 256.21L1813.77 254.69L1814.56 253.2L1815.4 251.74L1816.28 250.31L1817.22 248.92L1818.2 247.55L1819.23 246.23L1820.3 244.95L1821.41 243.7L1822.56 242.5L1823.75 241.33L1824.98 240.22L1826.4 239.35L1827.81 238.5L1829.21 237.65L1830.61 236.81L1832 235.97L1833.39 235.13L1834.79 234.29L1836.19 233.44L1837.6 232.59L1839.03 231.74L1840.57 231.19L1842.13 230.69L1843.7 230.25L1845.29 229.86L1846.89 229.54L1848.5 229.27L1850.12 229.07L1851.74 228.92L1853.37 228.83L1855 228.8L1856.63 228.83L1858.26 228.92L1859.88 229.07L1861.5 229.27L1863.11 229.54L1864.71 229.86L1866.3 230.25L1867.87 230.69L1869.43 231.19L1870.97 231.74L1872.4 232.59L1873.81 233.44L1875.21 234.29L1876.61 235.13L1878 235.97L1879.39 236.81L1880.79 237.65L1882.19 238.5L1883.6 239.35L1885.02 240.22L1886.25 241.33L1887.44 242.5L1888.59 243.7L1889.7 244.95L1890.77 246.23L1891.8 247.55L1892.78 248.92L1893.72 250.31L1894.6 251.74L1895.44 253.2L1896.23 254.69L1896.97 256.21L1897.66 257.75L1898.3 259.32L1898.88 260.91L1899.41 262.52L1899.89 264.15L1900.31 265.79L1900.68 267.45L1900.99 269.13L1901 270.84L1901 272.55L1901 274.24L1901 275.92Z" stroke="#0c0c0c" stroke-width="2.0" fill="none" stroke-linejoin="round" />
<ellipse cx="1855" cy="277.6" rx="38.3" ry="40.2" stroke="#0c0c0c" stroke-width="2.0" fill="none" />
<circle cx="1855" cy="277.6" r="28.7" stroke="#0c0c0c" stroke-width="2.0" fill="none" />
<circle cx="1855" cy="277.6" r="22" stroke="#0c0c0c" stroke-width="2.0" fill="none" />
<path d="M1900.62 268.76L1900.7 273.42L1900.7 277.6L1900.7 281.78L1900.62 286.44L1892.95 284.98L1893.45 281.13L1893.6 277.6L1893.45 274.07L1892.95 270.22Z" fill="#3a3a3a" stroke="none"/>
<path d="M1885.13 314.47L1881.31 316.87L1877.85 318.96L1874.39 321.05L1870.49 323.31L1867.88 315.78L1871.31 314.31L1874.3 312.67L1877.14 310.78L1880.07 308.4Z" fill="#3a3a3a" stroke="none"/>
<path d="M1839.51 323.31L1835.61 321.05L1832.15 318.96L1828.69 316.87L1824.87 314.47L1829.93 308.4L1832.86 310.78L1835.7 312.67L1838.69 314.31L1842.12 315.78Z" fill="#3a3a3a" stroke="none"/>
<path d="M1809.38 286.44L1809.3 281.78L1809.3 277.6L1809.3 273.42L1809.38 268.76L1817.05 270.22L1816.55 274.07L1816.4 277.6L1816.55 281.13L1817.05 284.98Z" fill="#3a3a3a" stroke="none"/>
<path d="M1824.87 240.73L1828.69 238.33L1832.15 236.24L1835.61 234.15L1839.51 231.89L1842.12 239.42L1838.69 240.89L1835.7 242.53L1832.86 244.42L1829.93 246.8Z" fill="#3a3a3a" stroke="none"/>
<path d="M1870.49 231.89L1874.39 234.15L1877.85 236.24L1881.31 238.33L1885.13 240.73L1880.07 246.8L1877.14 244.42L1874.3 242.53L1871.31 240.89L1867.88 239.42Z" fill="#3a3a3a" stroke="none"/>
<path d="M1796 384.6L1796 386.28L1796 387.96L1796 389.65L1796 391.36L1795.99 393.07L1795.68 394.75L1795.31 396.41L1794.89 398.05L1794.41 399.68L1793.88 401.29L1793.3 402.88L1792.66 404.45L1791.97 405.99L1791.23 407.51L1790.44 409L1789.6 410.46L1788.72 411.89L1787.78 413.28L1786.8 414.65L1785.77 415.97L1784.7 417.25L1783.59 418.5L1782.44 419.7L1781.25 420.87L1780.02 421.98L1778.6 422.85L1777.19 423.7L1775.79 424.55L1774.39 425.39L1773 426.23L1771.61 427.07L1770.21 427.91L1768.81 428.76L1767.4 429.61L1765.97 430.46L1764.43 431.01L1762.87 431.51L1761.3 431.95L1759.71 432.34L1758.11 432.66L1756.5 432.93L1754.88 433.13L1753.26 433.28L1751.63 433.37L1750 433.4L1748.37 433.37L1746.74 433.28L1745.12 433.13L1743.5 432.93L1741.89 432.66L1740.29 432.34L1738.7 431.95L1737.13 431.51L1735.57 431.01L1734.03 430.46L1732.6 429.61L1731.19 428.76L1729.79 427.91L1728.39 427.07L1727 426.23L1725.61 425.39L1724.21 424.55L1722.81 423.7L1721.4 422.85L1719.98 421.98L1718.75 420.87L1717.56 419.7L1716.41 418.5L1715.3 417.25L1714.23 415.97L1713.2 414.65L1712.22 413.28L1711.28 411.89L1710.4 410.46L1709.56 409L1708.77 407.51L1708.03 405.99L1707.34 404.45L1706.7 402.88L1706.12 401.29L1705.59 399.68L1705.11 398.05L1704.69 396.41L1704.32 394.75L1704.01 393.07L1704 391.36L1704 389.65L1704 387.96L1704 386.28L1704 384.6L1704 382.92L1704 381.24L1704 379.55L1704 377.84L1704.01 376.13L1704.32 374.45L1704.69 372.79L1705.11 371.15L1705.59 369.52L1706.12 367.91L1706.7 366.32L1707.34 364.75L1708.03 363.21L1708.77 361.69L1709.56 360.2L1710.4 358.74L1711.28 357.31L1712.22 355.92L1713.2 354.55L1714.23 353.23L1715.3 351.95L1716.41 350.7L1717.56 349.5L1718.75 348.33L1719.98 347.22L1721.4 346.35L1722.81 345.5L1724.21 344.65L1725.61 343.81L1727 342.97L1728.39 342.13L1729.79 341.29L1731.19 340.44L1732.6 339.59L1734.03 338.74L1735.57 338.19L1737.13 337.69L1738.7 337.25L1740.29 336.86L1741.89 336.54L1743.5 336.27L1745.12 336.07L1746.74 335.92L1748.37 335.83L1750 335.8L1751.63 335.83L1753.26 335.92L1754.88 336.07L1756.5 336.27L1758.11 336.54L1759.71 336.86L1761.3 337.25L1762.87 337.69L1764.43 338.19L1765.97 338.74L1767.4 339.59L1768.81 340.44L1770.21 341.29L1771.61 342.13L1773 342.97L1774.39 343.81L1775.79 344.65L1777.19 345.5L1778.6 346.35L1780.02 347.22L1781.25 348.33L1782.44 349.5L1783.59 350.7L1784.7 351.95L1785.77 353.23L1786.8 354.55L1787.78 355.92L1788.72 357.31L1789.6 358.74L1790.44 360.2L1791.23 361.69L1791.97 363.21L1792.66 364.75L1793.3 366.32L1793.88 367.91L1794.41 369.52L1794.89 371.15L1795.31 372.79L1795.68 374.45L1795.99 376.13L1796 377.84L1796 379.55L1796 381.24L1796 382.92Z" stroke="#0c0c0c" stroke-width="2.0" fill="none" stroke-linejoin="round" />
<ellipse cx="1750" cy="384.6" rx="38.3" ry="40.2" stroke="#0c0c0c" stroke-width="2.0" fill="none" />
<circle cx="1750" cy="384.6" r="28.7" stroke="#0c0c0c" stroke-width="2.0" fill="none" />
<circle cx="1750" cy="384.6" r="22" stroke="#0c0c0c" stroke-width="2.0" fill="none" />
<path d="M1795.62 375.76L1795.7 380.42L1795.7 384.6L1795.7 388.78L1795.62 393.44L1787.95 391.98L1788.45 388.13L1788.6 384.6L1788.45 381.07L1787.95 377.22Z" fill="#3a3a3a" stroke="none"/>
<path d="M1780.13 421.47L1776.31 423.87L1772.85 425.96L1769.39 428.05L1765.49 430.31L1762.88 422.78L1766.31 421.31L1769.3 419.67L1772.14 417.78L1775.07 415.4Z" fill="#3a3a3a" stroke="none"/>
<path d="M1734.51 430.31L1730.61 428.05L1727.15 425.96L1723.69 423.87L1719.87 421.47L1724.93 415.4L1727.86 417.78L1730.7 419.67L1733.69 421.31L1737.12 422.78Z" fill="#3a3a3a" stroke="none"/>
<path d="M1704.38 393.44L1704.3 388.78L1704.3 384.6L1704.3 380.42L1704.38 375.76L1712.05 377.22L1711.55 381.07L1711.4 384.6L1711.55 388.13L1712.05 391.98Z" fill="#3a3a3a" stroke="none"/>
<path d="M1719.87 347.73L1723.69 345.33L1727.15 343.24L1730.61 341.15L1734.51 338.89L1737.12 346.42L1733.69 347.89L1730.7 349.53L1727.86 351.42L1724.93 353.8Z" fill="#3a3a3a" stroke="none"/>
<path d="M1765.49 338.89L1769.39 341.15L1772.85 343.24L1776.31 345.33L1780.13 347.73L1775.07 353.8L1772.14 351.42L1769.3 349.53L1766.31 347.89L1762.88 346.42Z" fill="#3a3a3a" stroke="none"/>
<path d="M1901 384.6L1901 386.28L1901 387.96L1901 389.65L1901 391.36L1900.99 393.07L1900.68 394.75L1900.31 396.41L1899.89 398.05L1899.41 399.68L1898.88 401.29L1898.3 402.88L1897.66 404.45L1896.97 405.99L1896.23 407.51L1895.44 409L1894.6 410.46L1893.72 411.89L1892.78 413.28L1891.8 414.65L1890.77 415.97L1889.7 417.25L1888.59 418.5L1887.44 419.7L1886.25 420.87L1885.02 421.98L1883.6 422.85L1882.19 423.7L1880.79 424.55L1879.39 425.39L1878 426.23L1876.61 427.07L1875.21 427.91L1873.81 428.76L1872.4 429.61L1870.97 430.46L1869.43 431.01L1867.87 431.51L1866.3 431.95L1864.71 432.34L1863.11 432.66L1861.5 432.93L1859.88 433.13L1858.26 433.28L1856.63 433.37L1855 433.4L1853.37 433.37L1851.74 433.28L1850.12 433.13L1848.5 432.93L1846.89 432.66L1845.29 432.34L1843.7 431.95L1842.13 431.51L1840.57 431.01L1839.03 430.46L1837.6 429.61L1836.19 428.76L1834.79 427.91L1833.39 427.07L1832 426.23L1830.61 425.39L1829.21 424.55L1827.81 423.7L1826.4 422.85L1824.98 421.98L1823.75 420.87L1822.56 419.7L1821.41 418.5L1820.3 417.25L1819.23 415.97L1818.2 414.65L1817.22 413.28L1816.28 411.89L1815.4 410.46L1814.56 409L1813.77 407.51L1813.03 405.99L1812.34 404.45L1811.7 402.88L1811.12 401.29L1810.59 399.68L1810.11 398.05L1809.69 396.41L1809.32 394.75L1809.01 393.07L1809 391.36L1809 389.65L1809 387.96L1809 386.28L1809 384.6L1809 382.92L1809 381.24L1809 379.55L1809 377.84L1809.01 376.13L1809.32 374.45L1809.69 372.79L1810.11 371.15L1810.59 369.52L1811.12 367.91L1811.7 366.32L1812.34 364.75L1813.03 363.21L1813.77 361.69L1814.56 360.2L1815.4 358.74L1816.28 357.31L1817.22 355.92L1818.2 354.55L1819.23 353.23L1820.3 351.95L1821.41 350.7L1822.56 349.5L1823.75 348.33L1824.98 347.22L1826.4 346.35L1827.81 345.5L1829.21 344.65L1830.61 343.81L1832 342.97L1833.39 342.13L1834.79 341.29L1836.19 340.44L1837.6 339.59L1839.03 338.74L1840.57 338.19L1842.13 337.69L1843.7 337.25L1845.29 336.86L1846.89 336.54L1848.5 336.27L1850.12 336.07L1851.74 335.92L1853.37 335.83L1855 335.8L1856.63 335.83L1858.26 335.92L1859.88 336.07L1861.5 336.27L1863.11 336.54L1864.71 336.86L1866.3 337.25L1867.87 337.69L1869.43 338.19L1870.97 338.74L1872.4 339.59L1873.81 340.44L1875.21 341.29L1876.61 342.13L1878 342.97L1879.39 343.81L1880.79 344.65L1882.19 345.5L1883.6 346.35L1885.02 347.22L1886.25 348.33L1887.44 349.5L1888.59 350.7L1889.7 351.95L1890.77 353.23L1891.8 354.55L1892.78 355.92L1893.72 357.31L1894.6 358.74L1895.44 360.2L1896.23 361.69L1896.97 363.21L1897.66 364.75L1898.3 366.32L1898.88 367.91L1899.41 369.52L1899.89 371.15L1900.31 372.79L1900.68 374.45L1900.99 376.13L1901 377.84L1901 379.55L1901 381.24L1901 382.92Z" stroke="#0c0c0c" stroke-width="2.0" fill="none" stroke-linejoin="round" />
<ellipse cx="1855" cy="384.6" rx="38.3" ry="40.2" stroke="#0c0c0c" stroke-width="2.0" fill="none" />
<circle cx="1855" cy="384.6" r="28.7" stroke="#0c0c0c" stroke-width="2.0" fill="none" />
<circle cx="1855" cy="384.6" r="22" stroke="#0c0c0c" stroke-width="2.0" fill="none" />
<path d="M1900.62 375.76L1900.7 380.42L1900.7 384.6L1900.7 388.78L1900.62 393.44L1892.95 391.98L1893.45 388.13L1893.6 384.6L1893.45 381.07L1892.95 377.22Z" fill="#3a3a3a" stroke="none"/>
<path d="M1885.13 421.47L1881.31 423.87L1877.85 425.96L1874.39 428.05L1870.49 430.31L1867.88 422.78L1871.31 421.31L1874.3 419.67L1877.14 417.78L1880.07 415.4Z" fill="#3a3a3a" stroke="none"/>
<path d="M1839.51 430.31L1835.61 428.05L1832.15 425.96L1828.69 423.87L1824.87 421.47L1829.93 415.4L1832.86 417.78L1835.7 419.67L1838.69 421.31L1842.12 422.78Z" fill="#3a3a3a" stroke="none"/>
<path d="M1809.38 393.44L1809.3 388.78L1809.3 384.6L1809.3 380.42L1809.38 375.76L1817.05 377.22L1816.55 381.07L1816.4 384.6L1816.55 388.13L1817.05 391.98Z" fill="#3a3a3a" stroke="none"/>
<path d="M1824.87 347.73L1828.69 345.33L1832.15 343.24L1835.61 341.15L1839.51 338.89L1842.12 346.42L1838.69 347.89L1835.7 349.53L1832.86 351.42L1829.93 353.8Z" fill="#3a3a3a" stroke="none"/>
<path d="M1870.49 338.89L1874.39 341.15L1877.85 343.24L1881.31 345.33L1885.13 347.73L1880.07 353.8L1877.14 351.42L1874.3 349.53L1871.31 347.89L1867.88 346.42Z" fill="#3a3a3a" stroke="none"/>
<circle cx="1801.6" cy="228.1" r="18.5" stroke="#0c0c0c" stroke-width="1.9" fill="none" />
<circle cx="1801.6" cy="228.1" r="14.3" stroke="#0c0c0c" stroke-width="1.9" fill="none" />
<circle cx="1801.6" cy="228.1" r="8.9" stroke="#0c0c0c" stroke-width="1.9" fill="none" />
<circle cx="1801.6" cy="228.1" r="11.6" stroke="#0c0c0c" stroke-width="0.9" fill="none" stroke-dasharray="14 6"/>
<path d="M1802.2 209.6L1802.2 219.1" stroke="#0c0c0c" stroke-width="1.3" fill="none" />
<path d="M1801.9 237.1L1801.9 242.4" stroke="#0c0c0c" stroke-width="1.3" fill="none" />
<circle cx="1802" cy="435.4" r="19.1" stroke="#0c0c0c" stroke-width="1.9" fill="none" />
<circle cx="1802" cy="435.4" r="14.3" stroke="#0c0c0c" stroke-width="1.9" fill="none" />
<circle cx="1802" cy="435.4" r="8.9" stroke="#0c0c0c" stroke-width="1.9" fill="none" />
<circle cx="1802" cy="435.4" r="11.6" stroke="#0c0c0c" stroke-width="0.9" fill="none" stroke-dasharray="14 6"/>
<path d="M1802.6 416.3L1802.6 426.4" stroke="#0c0c0c" stroke-width="1.3" fill="none" />
<path d="M1802.3 444.4L1802.3 449.7" stroke="#0c0c0c" stroke-width="1.3" fill="none" />
<path d="M1783.9 234.3L1777.8 238.8" stroke="#0c0c0c" stroke-width="1.8" fill="none" />
<path d="M1820.5 227.3L1831.6 235.4" stroke="#0c0c0c" stroke-width="1.8" fill="none" />
<path d="M1783.7 430.3L1776.4 423.6" stroke="#0c0c0c" stroke-width="1.8" fill="none" />
<path d="M1821.2 430.3L1827.8 425" stroke="#0c0c0c" stroke-width="1.8" fill="none" />
<path d="M1974.9 308.3L1998.5 308.3" stroke="#0c0c0c" stroke-width="1.6" fill="none" />
<path d="M1974.9 345.7L1998.5 345.7" stroke="#0c0c0c" stroke-width="1.6" fill="none" />
<path d="M1974.9 358.9L1995.3 358.9L1995.3 345.7" stroke="#0c0c0c" stroke-width="1.6" fill="none" stroke-linejoin="round" />
<rect x="1975.9" y="308.9" width="18.5" height="36.4" rx="5.5" stroke="#0c0c0c" stroke-width="1.2" fill="none" />
<path d="M1998.5 291.6L2015.2 291.6C2023.5 298 2028.5 311 2028.5 322.5C2028.5 337 2022 350 2015.2 358.9L1998.5 358.9Z" stroke="#0c0c0c" stroke-width="1.6" fill="none" stroke-linejoin="round" />
<path d="M2015.2 291.6L2015.2 358.9" stroke="#0c0c0c" stroke-width="1.6" fill="none" />
<path d="M2015.2 308.3L2024.5 308.3" stroke="#0c0c0c" stroke-width="1.3" fill="none" />
<path d="M2015.2 343.7L2023.8 343.7" stroke="#0c0c0c" stroke-width="1.3" fill="none" />
<path d="M1695.2 496.6L1695.2 464Q1695.4 460.9 1698.5 460.7L1724 460.7Q1726.5 460.9 1726.7 463.5L1726.7 496.6M1726.7 464Q1726.9 460.9 1730 460.7L1740.5 460.7" stroke="#0c0c0c" stroke-width="1.6" fill="none" stroke-linejoin="round" />
<path d="M1909 496.6L1909 464Q1908.8 460.9 1905.7 460.7L1880.8 460.7Q1878.3 460.9 1878.1 463.5L1878.1 496.6M1878.1 464Q1877.9 460.9 1874.8 460.7L1863.5 460.7" stroke="#0c0c0c" stroke-width="1.6" fill="none" stroke-linejoin="round" />
<path d="M1695.2 496.6L1909 496.6" stroke="#0c0c0c" stroke-width="1.6" fill="none" />
<rect x="1679.5" y="497.3" width="244.8" height="109.1" rx="15" stroke="#0c0c0c" stroke-width="1.6" fill="#fff" />
<rect x="1685.4" y="503.2" width="233" height="96.7" rx="10" stroke="#0c0c0c" stroke-width="1.6" fill="none" />
<rect x="1694.4" y="512.2" width="214.9" height="78.5" rx="5.5" stroke="#3a3a3a" stroke-width="6.6" fill="none" />
<path d="M1904.6 551.8L1904.5 555.89L1904.18 558.63L1903.66 561.01L1902.93 563.17L1902 565.17L1900.85 567.05L1899.5 568.82L1897.95 570.49L1896.19 572.08L1894.22 573.58L1892.05 575.01L1889.68 576.36L1887.1 577.63L1884.33 578.83L1881.35 579.96L1878.16 581.01L1874.78 582L1871.18 582.91L1867.38 583.75L1863.36 584.52L1859.12 585.22L1854.64 585.84L1849.92 586.39L1844.93 586.87L1839.64 587.28L1833.98 587.61L1827.89 587.87L1821.18 588.05L1813.45 588.16L1801.9 588.2L1790.35 588.16L1782.62 588.05L1775.91 587.87L1769.82 587.61L1764.16 587.28L1758.87 586.87L1753.88 586.39L1749.16 585.84L1744.68 585.22L1740.44 584.52L1736.42 583.75L1732.62 582.91L1729.02 582L1725.64 581.01L1722.45 579.96L1719.47 578.83L1716.7 577.63L1714.12 576.36L1711.75 575.01L1709.58 573.58L1707.61 572.08L1705.85 570.49L1704.3 568.82L1702.95 567.05L1701.8 565.17L1700.87 563.17L1700.14 561.01L1699.62 558.63L1699.3 555.89L1699.2 551.8L1699.3 547.71L1699.62 544.97L1700.14 542.59L1700.87 540.43L1701.8 538.43L1702.95 536.55L1704.3 534.78L1705.85 533.11L1707.61 531.52L1709.58 530.02L1711.75 528.59L1714.12 527.24L1716.7 525.97L1719.47 524.77L1722.45 523.64L1725.64 522.59L1729.02 521.6L1732.62 520.69L1736.42 519.85L1740.44 519.08L1744.68 518.38L1749.16 517.76L1753.88 517.21L1758.87 516.73L1764.16 516.32L1769.82 515.99L1775.91 515.73L1782.62 515.55L1790.35 515.44L1801.9 515.4L1813.45 515.44L1821.18 515.55L1827.89 515.73L1833.98 515.99L1839.64 516.32L1844.93 516.73L1849.92 517.21L1854.64 517.76L1859.12 518.38L1863.36 519.08L1867.38 519.85L1871.18 520.69L1874.78 521.6L1878.16 522.59L1881.35 523.64L1884.33 524.77L1887.1 525.97L1889.68 527.24L1892.05 528.59L1894.22 530.02L1896.19 531.52L1897.95 533.11L1899.5 534.78L1900.85 536.55L1902 538.43L1902.93 540.43L1903.66 542.59L1904.18 544.97L1904.5 547.71Z" stroke="#0c0c0c" stroke-width="1.6" fill="none" stroke-linejoin="round" />
<path d="M1898.2 551.8L1898.1 555.31L1897.81 557.66L1897.32 559.7L1896.64 561.55L1895.76 563.26L1894.69 564.87L1893.42 566.39L1891.96 567.82L1890.31 569.18L1888.47 570.47L1886.43 571.69L1884.21 572.85L1881.79 573.94L1879.19 574.97L1876.4 575.94L1873.41 576.84L1870.23 577.68L1866.86 578.47L1863.3 579.19L1859.53 579.85L1855.55 580.44L1851.36 580.98L1846.93 581.45L1842.25 581.86L1837.28 582.21L1831.99 582.49L1826.27 582.72L1819.98 582.87L1812.73 582.97L1801.9 583L1791.07 582.97L1783.82 582.87L1777.53 582.72L1771.81 582.49L1766.52 582.21L1761.55 581.86L1756.87 581.45L1752.44 580.98L1748.25 580.44L1744.27 579.85L1740.5 579.19L1736.94 578.47L1733.57 577.68L1730.39 576.84L1727.4 575.94L1724.61 574.97L1722.01 573.94L1719.59 572.85L1717.37 571.69L1715.33 570.47L1713.49 569.18L1711.84 567.82L1710.38 566.39L1709.11 564.87L1708.04 563.26L1707.16 561.55L1706.48 559.7L1705.99 557.66L1705.7 555.31L1705.6 551.8L1705.7 548.29L1705.99 545.94L1706.48 543.9L1707.16 542.05L1708.04 540.34L1709.11 538.73L1710.38 537.21L1711.84 535.78L1713.49 534.42L1715.33 533.13L1717.37 531.91L1719.59 530.75L1722.01 529.66L1724.61 528.63L1727.4 527.66L1730.39 526.76L1733.57 525.92L1736.94 525.13L1740.5 524.41L1744.27 523.75L1748.25 523.16L1752.44 522.62L1756.87 522.15L1761.55 521.74L1766.52 521.39L1771.81 521.11L1777.53 520.88L1783.82 520.73L1791.07 520.63L1801.9 520.6L1812.73 520.63L1819.98 520.73L1826.27 520.88L1831.99 521.11L1837.28 521.39L1842.25 521.74L1846.93 522.15L1851.36 522.62L1855.55 523.16L1859.53 523.75L1863.3 524.41L1866.86 525.13L1870.23 525.92L1873.41 526.76L1876.4 527.66L1879.19 528.63L1881.79 529.66L1884.21 530.75L1886.43 531.91L1888.47 533.13L1890.31 534.42L1891.96 535.78L1893.42 537.21L1894.69 538.73L1895.76 540.34L1896.64 542.05L1897.32 543.9L1897.81 545.94L1898.1 548.29Z" stroke="#0c0c0c" stroke-width="1.6" fill="none" stroke-linejoin="round" />
<rect x="1798.8" y="515.4" width="6.1" height="72.4" fill="#fff" stroke="none"/>
<rect x="1697.6" y="548.8" width="208.6" height="5.9" fill="#fff" stroke="none"/>
<path d="M1798.8 515.4L1798.8 548.8" stroke="#0c0c0c" stroke-width="1.6" fill="none" />
<path d="M1798.8 554.7L1798.8 587.8" stroke="#0c0c0c" stroke-width="1.6" fill="none" />
<path d="M1804.9 515.4L1804.9 548.8" stroke="#0c0c0c" stroke-width="1.6" fill="none" />
<path d="M1804.9 554.7L1804.9 587.8" stroke="#0c0c0c" stroke-width="1.6" fill="none" />
<path d="M1697.6 548.8L1798.8 548.8" stroke="#0c0c0c" stroke-width="1.6" fill="none" />
<path d="M1804.9 548.8L1906.2 548.8" stroke="#0c0c0c" stroke-width="1.6" fill="none" />
<path d="M1697.6 554.7L1798.8 554.7" stroke="#0c0c0c" stroke-width="1.6" fill="none" />
<path d="M1804.9 554.7L1906.2 554.7" stroke="#0c0c0c" stroke-width="1.6" fill="none" />
<path d="M1768.9 606.4L1768.9 614Q1769.2 616.8 1772 617L1832.4 617Q1835.2 616.8 1835.4 614L1835.4 606.4" stroke="#0c0c0c" stroke-width="1.6" fill="none" stroke-linejoin="round" />
<path d="M1628.4 129.4L2016.5 129.4" stroke="#0c0c0c" stroke-width="1.2" fill="none" />
<path d="M1628.4 129.4L1628.4 163.3" stroke="#0c0c0c" stroke-width="1.2" fill="none" />
<path d="M2016.5 129.4L2016.5 249" stroke="#0c0c0c" stroke-width="1.2" fill="none" />
<path d="M1632 132.6L1641.6 132.6" stroke="#0c0c0c" stroke-width="1.2" fill="none" />
<path d="M2003 132.6L2012.5 132.6" stroke="#0c0c0c" stroke-width="1.2" fill="none" />
<path d="M1765.75 80L1765.75 119.6M1755.8 88.16L1765.75 81.3" fill="none" stroke="#ff0000" stroke-width="3.1"/>
<path d="M1807.41 85.24 C1804.99 82.66 1802.09 81.55 1798.46 81.55 C1789.99 81.55 1785.15 90.78 1785.15 105.9 C1785.15 114.02 1790.47 118.45 1797.25 118.45 C1804.03 118.45 1809.35 114.02 1809.35 107.38 C1809.35 100.74 1804.03 96.31 1797.25 96.31 C1791.2 96.31 1786.36 100 1785.63 104.43" fill="none" stroke="#ff0000" stroke-width="3.1" stroke-linejoin="miter" stroke-miterlimit="10"/>
<ellipse cx="1831.65" cy="100" rx="13" ry="18.45" fill="none" stroke="#ff0000" stroke-width="3.1"/>
<path d="M1563.2 226.4L1628.9 226.4" stroke="#0c0c0c" stroke-width="1.2" fill="none" />
<path d="M1563.7 226.4L1563.7 507.7" stroke="#0c0c0c" stroke-width="1.2" fill="none" />
<path d="M1562.3 507.7L1603.7 507.7" stroke="#0c0c0c" stroke-width="1.2" fill="none" />
<path d="M1565.6 230L1565.6 238" stroke="#0c0c0c" stroke-width="1.0" fill="none" />
<path d="M1565.6 496L1565.6 505" stroke="#0c0c0c" stroke-width="1.2" fill="none" />
<path d="M1411.5 321.1L1411.5 360M1402.9 329.11L1411.5 322.4" fill="none" stroke="#ff0000" stroke-width="3.2"/>
<path d="M1433.79 325.95 C1435.78 323.78 1438.89 322.7 1442.44 322.7 C1447.77 322.7 1451.32 325.59 1451.32 330.64 C1451.32 335.7 1446.44 338.22 1438.45 338.22 C1446.88 338.22 1453.1 340.75 1453.1 348.33 C1453.1 355.19 1448.22 358.8 1442.44 358.8 C1437.56 358.8 1433.12 356.99 1430.9 354.11" fill="none" stroke="#ff0000" stroke-width="3.2" stroke-linejoin="miter" stroke-miterlimit="10"/>
<path d="M1466.91 323.4 L1486.29 323.4 L1473.23 337.91" fill="none" stroke="#ff0000" stroke-width="3.2" stroke-linejoin="miter" stroke-miterlimit="10"/>
<path d="M1472.82 338.44 C1480.78 335.08 1486.9 340.04 1486.9 348.18 C1486.9 354.55 1481.8 358.8 1476.29 358.8 C1472.21 358.8 1468.54 356.68 1466.5 353.14" fill="none" stroke="#ff0000" stroke-width="3.2" stroke-linejoin="miter" stroke-miterlimit="10"/>
<path d="M1502.6 354.2 L1498.5 366.6" fill="none" stroke="#ff0000" stroke-width="3.2" stroke-linejoin="miter" stroke-miterlimit="10"/>
<path d="M1536.6 323.4 L1522.24 323.4 L1520.58 339.33" fill="none" stroke="#ff0000" stroke-width="3.2" stroke-linejoin="miter" stroke-miterlimit="10"/>
<path d="M1520.16 339.68 C1523.7 336.14 1526.82 335.08 1528.9 335.08 C1535.14 335.08 1539.3 339.68 1539.3 346.76 C1539.3 354.55 1534.1 358.8 1528.28 358.8 C1524.32 358.8 1520.58 356.68 1518.5 353.14" fill="none" stroke="#ff0000" stroke-width="3.2" stroke-linejoin="miter" stroke-miterlimit="10"/>
<path d="M1616.9 524.2L1616.9 692.4" stroke="#0c0c0c" stroke-width="1.2" fill="none" />
<path d="M1987.6 525.2L1987.6 692.4" stroke="#0c0c0c" stroke-width="1.2" fill="none" />
<path d="M1616.9 691.7L1987.6 691.7" stroke="#0c0c0c" stroke-width="1.2" fill="none" />
<path d="M1619 689.8L1629 689.8" stroke="#0c0c0c" stroke-width="1.0" fill="none" />
<path d="M1976 689.8L1985 689.8" stroke="#0c0c0c" stroke-width="1.0" fill="none" />
<path d="M1764.65 641.1L1764.65 680M1755.4 649.11L1764.65 642.4" fill="none" stroke="#ff0000" stroke-width="3.1"/>
<path d="M1784.85 643.35 L1804.04 643.35 L1791.12 658.03" fill="none" stroke="#ff0000" stroke-width="3.1" stroke-linejoin="miter" stroke-miterlimit="10"/>
<path d="M1790.71 658.56 C1798.59 655.16 1804.65 660.18 1804.65 668.41 C1804.65 674.85 1799.6 679.15 1794.15 679.15 C1790.11 679.15 1786.47 677 1784.45 673.42" fill="none" stroke="#ff0000" stroke-width="3.1" stroke-linejoin="miter" stroke-miterlimit="10"/>
<path d="M1817.26 643.35 L1836.74 643.35 L1823.62 658.03" fill="none" stroke="#ff0000" stroke-width="3.1" stroke-linejoin="miter" stroke-miterlimit="10"/>
<path d="M1823.2 658.56 C1831.2 655.16 1837.35 660.18 1837.35 668.41 C1837.35 674.85 1832.23 679.15 1826.69 679.15 C1822.59 679.15 1818.9 677 1816.85 673.42" fill="none" stroke="#ff0000" stroke-width="3.1" stroke-linejoin="miter" stroke-miterlimit="10"/>
<rect x="1635.3" y="833.4" width="321.8" height="126.1" rx="0" stroke="#0c0c0c" stroke-width="1.25" fill="none" />
<path d="M1746.9 833.4L1746.9 959.5" stroke="#0c0c0c" stroke-width="1.25" fill="none" />
<path d="M1848 833.4L1848 959.5" stroke="#0c0c0c" stroke-width="1.25" fill="none" />
<circle cx="1670.2" cy="853.4" r="8.3" stroke="#0c0c0c" stroke-width="1.25" fill="none" />
<circle cx="1925.4" cy="853.4" r="8.3" stroke="#0c0c0c" stroke-width="1.25" fill="none" />
<circle cx="1670.2" cy="927.8" r="8.3" stroke="#0c0c0c" stroke-width="1.25" fill="none" />
<circle cx="1925.4" cy="927.8" r="8.3" stroke="#0c0c0c" stroke-width="1.25" fill="none" />
<path d="M1669.5 804.2L1925.4 804.2" stroke="#0c0c0c" stroke-width="1.2" fill="none" />
<path d="M1669.5 801.7L1669.5 845.1" stroke="#0c0c0c" stroke-width="1.2" fill="none" />
<path d="M1925.4 801.7L1925.4 845.1" stroke="#0c0c0c" stroke-width="1.2" fill="none" />
<path d="M1669.5 801.7L1677.5 801.7L1677.5 806" stroke="#0c0c0c" stroke-width="1.0" fill="none" stroke-linejoin="round" />
<path d="M1925.4 801.7L1917.5 801.7L1917.5 806" stroke="#0c0c0c" stroke-width="1.0" fill="none" stroke-linejoin="round" />
<path d="M1765.75 754.8L1765.75 793M1755.8 762.67L1765.75 756.1" fill="none" stroke="#ff0000" stroke-width="3.1"/>
<path d="M1796.25 754.8L1796.25 793M1786.7 762.67L1796.25 756.1" fill="none" stroke="#ff0000" stroke-width="3.1"/>
<path d="M1834.75 756.35 L1819.36 756.35 L1817.58 772.24" fill="none" stroke="#ff0000" stroke-width="3.1" stroke-linejoin="miter" stroke-miterlimit="10"/>
<path d="M1817.13 772.59 C1820.92 769.06 1824.27 768 1826.5 768 C1833.19 768 1837.65 772.59 1837.65 779.65 C1837.65 787.41 1832.08 791.65 1825.83 791.65 C1821.59 791.65 1817.58 789.53 1815.35 786" fill="none" stroke="#ff0000" stroke-width="3.1" stroke-linejoin="miter" stroke-miterlimit="10"/>
<path d="M1590.5 852.8L1590.5 927.4" stroke="#0c0c0c" stroke-width="1.2" fill="none" />
<path d="M1588.4 852.8L1661.9 852.8" stroke="#0c0c0c" stroke-width="1.2" fill="none" />
<path d="M1588.4 927.4L1661.9 927.4" stroke="#0c0c0c" stroke-width="1.2" fill="none" />
<path d="M1588.4 852.8L1588.4 861L1593.6 861L1593.6 855" stroke="#0c0c0c" stroke-width="1.0" fill="none" stroke-linejoin="round" />
<path d="M1588.4 927.4L1588.4 918.5L1593.6 918.5L1593.6 925" stroke="#0c0c0c" stroke-width="1.0" fill="none" stroke-linejoin="round" />
<path d="M1516.9 870.7 L1536 870.7 L1523.13 885.34" fill="none" stroke="#ff0000" stroke-width="3.2" stroke-linejoin="miter" stroke-miterlimit="10"/>
<path d="M1522.73 885.87 C1530.57 882.48 1536.6 887.48 1536.6 895.69 C1536.6 902.12 1531.58 906.4 1526.15 906.4 C1522.13 906.4 1518.51 904.26 1516.5 900.69" fill="none" stroke="#ff0000" stroke-width="3.2" stroke-linejoin="miter" stroke-miterlimit="10"/>
<path d="M1560.7 869.1L1560.7 907.1M1551.1 876.93L1560.7 870.4" fill="none" stroke="#ff0000" stroke-width="3.2"/>
<path d="M1930.4 923.5L1983.8 868L2229 868" stroke="#0c0c0c" stroke-width="1.2" fill="none" stroke-linejoin="round" />
<ellipse cx="2012.2" cy="838.25" rx="11.6" ry="12.65" fill="none" stroke="#ff0000" stroke-width="3.0"/>
<path d="M2001.2 855.1L2022.1 824.1" stroke="#ff0000" stroke-width="3.0" fill="none"/>
<ellipse cx="2045.2" cy="826.94" rx="9.16" ry="8.34" fill="none" stroke="#ff0000" stroke-width="3.0"/>
<ellipse cx="2045.2" cy="844.69" rx="10.9" ry="9.41" fill="none" stroke="#ff0000" stroke-width="3.0"/>
<rect x="2065.9" y="851.1" width="4.8" height="3.2" fill="#ff0000"/>
<path d="M2098.49 818.6 L2083.59 818.6 L2081.86 834.49" fill="none" stroke="#ff0000" stroke-width="3.0" stroke-linejoin="miter" stroke-miterlimit="10"/>
<path d="M2081.43 834.84 C2085.1 831.31 2088.34 830.25 2090.5 830.25 C2096.98 830.25 2101.3 834.84 2101.3 841.9 C2101.3 849.66 2095.9 853.9 2089.85 853.9 C2085.75 853.9 2081.86 851.78 2079.7 848.25" fill="none" stroke="#ff0000" stroke-width="3.0" stroke-linejoin="miter" stroke-miterlimit="10"/>
<path d="M2147.3 815.9 Q2131.9 836.85 2147.3 857.8" fill="none" stroke="#ff0000" stroke-width="3.0" stroke-linejoin="miter" stroke-miterlimit="10"/>
<path d="M2158.8 829.8 L2176.2 852.5" fill="none" stroke="#ff0000" stroke-width="3.0" stroke-linejoin="miter" stroke-miterlimit="10"/>
<path d="M2176.2 829.8 L2158.8 852.5" fill="none" stroke="#ff0000" stroke-width="3.0" stroke-linejoin="miter" stroke-miterlimit="10"/>
<path d="M2201.14 817.1 L2201.14 854" fill="none" stroke="#ff0000" stroke-width="3.0" stroke-linejoin="miter" stroke-miterlimit="10"/>
<path d="M2201.14 818.21 L2183.4 844.04 L2207.7 844.04" fill="none" stroke="#ff0000" stroke-width="3.0" stroke-linejoin="miter" stroke-miterlimit="10"/>
<path d="M2216 815.9 Q2231.4 837.1 2216 858.3" fill="none" stroke="#ff0000" stroke-width="3.0" stroke-linejoin="miter" stroke-miterlimit="10"/>
</svg>
</body></html>
